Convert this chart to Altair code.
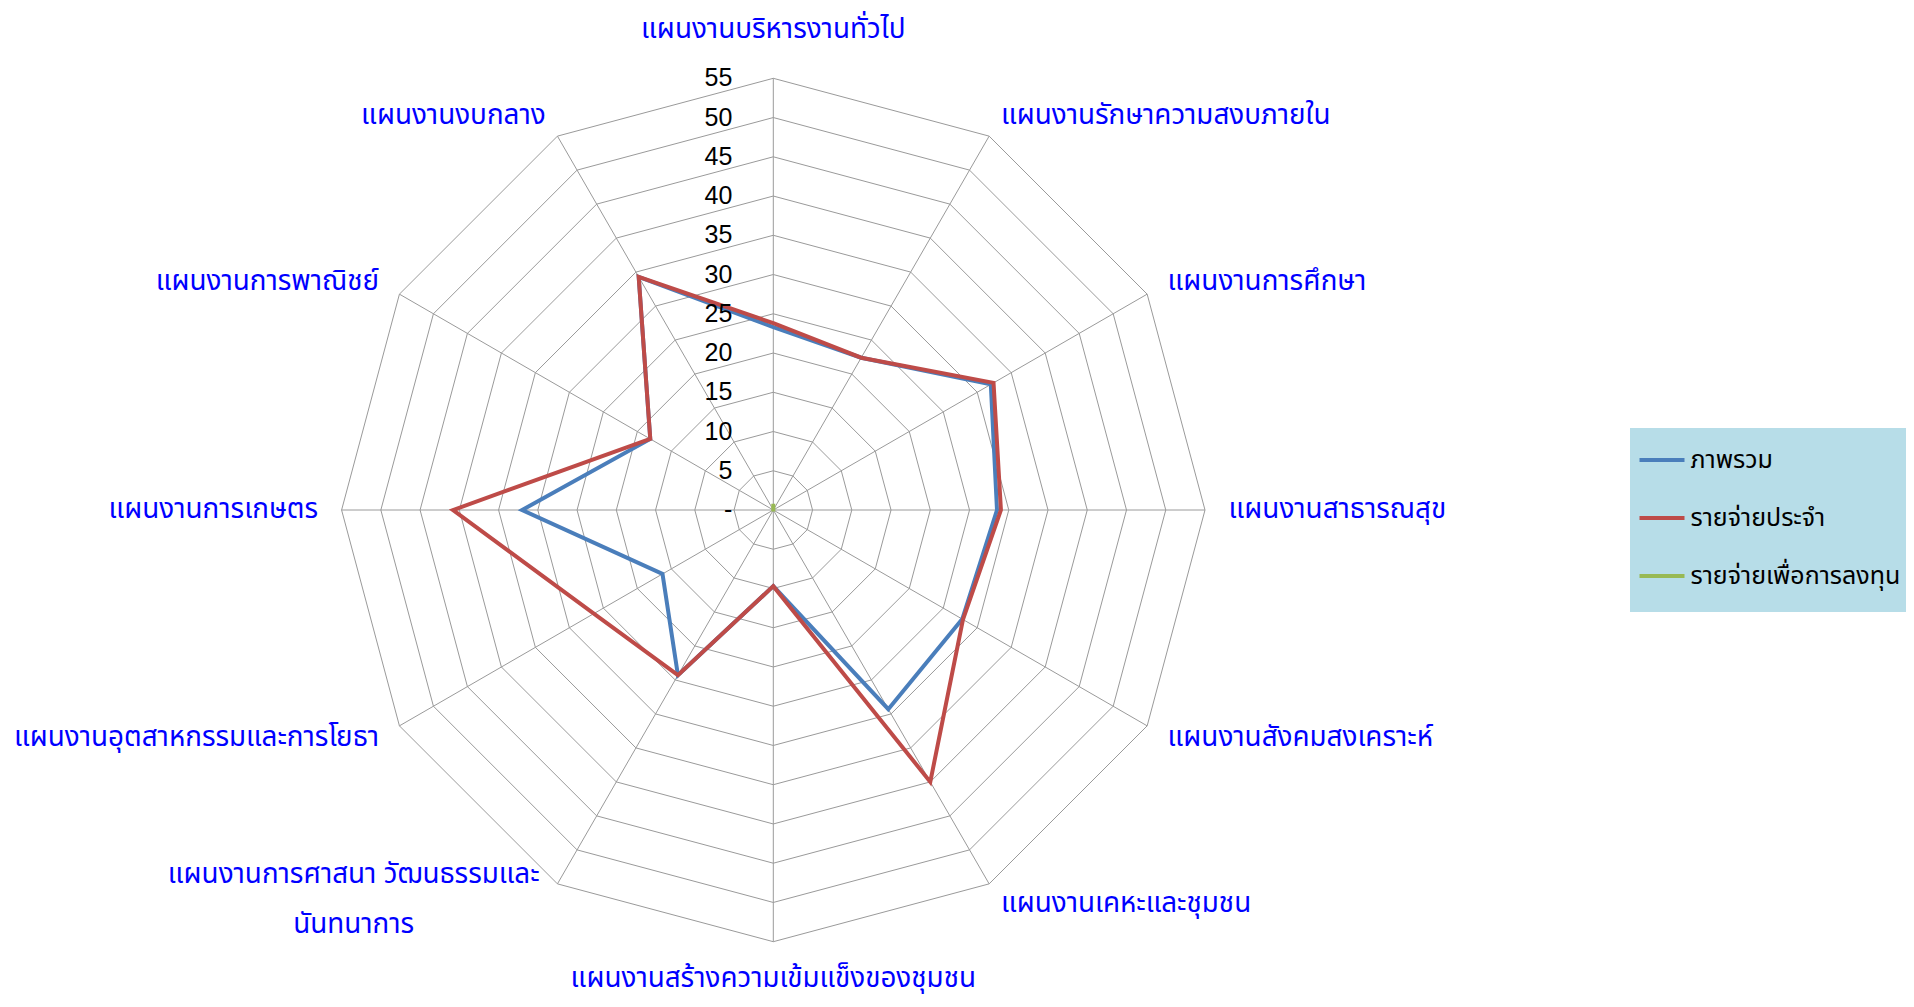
import altair as alt
import pandas as pd

# ---------------- data ----------------
categories = [
    "แผนงานบริหารงานทั่วไป",
    "แผนงานรักษาความสงบภายใน",
    "แผนงานการศึกษา",
    "แผนงานสาธารณสุข",
    "แผนงานสังคมสงเคราะห์",
    "แผนงานเคหะและชุมชน",
    "แผนงานสร้างความเข้มแข็งของชุมชน",
    "แผนงานการศาสนา วัฒนธรรมและนันทนาการ",
    "แผนงานอุตสาหกรรมและการโยธา",
    "แผนงานการเกษตร",
    "แผนงานการพาณิชย์",
    "แผนงานงบกลาง",
]
category_labels = [
    "แผนงานบริหารงานทั่วไป",
    "แผนงานรักษาความสงบภายใน",
    "แผนงานการศึกษา",
    "แผนงานสาธารณสุข",
    "แผนงานสังคมสงเคราะห์",
    "แผนงานเคหะและชุมชน",
    "แผนงานสร้างความเข้มแข็งของชุมชน",
    "แผนงานการศาสนา วัฒนธรรมและ\nนันทนาการ",
    "แผนงานอุตสาหกรรมและการโยธา",
    "แผนงานการเกษตร",
    "แผนงานการพาณิชย์",
    "แผนงานงบกลาง",
]
series_names = ["ภาพรวม", "รายจ่ายประจำ", "รายจ่ายเพื่อการลงทุน"]
overall = [23.3, 22.4, 32.0, 28.5, 27.8, 29.3, 9.7, 24.3, 16.3, 32.0, 18.1, 34.3]
recurrent = [23.8, 22.4, 32.4, 29.0, 27.9, 40.0, 9.7, 24.3, 26.4, 40.8, 18.1, 34.3]
investment = [0.8, 0.0, 0.0, 0.0, 0.0, 0.0, 0.2, 0.0, 0.0, 0.0, 0.0, 0.0]
series_colors = ["#4A7EBB", "#BE4B48", "#98B954"]
ring_levels = [5, 10, 15, 20, 25, 30, 35, 40, 45, 50, 55]
tick_values = [0, 5, 10, 15, 20, 25, 30, 35, 40, 45, 50, 55]
tick_labels = ["-", "5", "10", "15", "20", "25", "30", "35", "40", "45", "50", "55"]
r_max = 55

# ---------------- layout (pixels) ----------------
W, H = 1898, 991
CX, CY = 765.3, 502.0          # centre of the radar inside the plot area
K = 431.7 / r_max              # pixels per unit
XD = [-CX / K, (W - CX) / K]
YD = [-(H - CY) / K, CY / K]
THAI = "Tahoma, 'Noto Sans Thai', 'Leelawadee UI', 'Noto Sans', sans-serif"
LABEL_SIZE = 27.8

n = len(categories)

rows = []
for s, vals in zip(series_names, [overall, recurrent, investment]):
    for i in range(n + 1):
        rows.append({"series": s, "order": i, "idx": i % n, "value": vals[i % n]})
series_df = pd.DataFrame(rows)

grid_df = pd.DataFrame(
    [{"level": lv, "order": i, "idx": i % n, "value": lv} for lv in ring_levels for i in range(n + 1)]
)
spoke_df = pd.DataFrame({"idx": list(range(n)), "value": [r_max] * n})
tick_df = pd.DataFrame({"value": tick_values, "label": tick_labels})
label_df = pd.DataFrame({"idx": list(range(n)), "label": category_labels})

xs = alt.Scale(domain=XD, nice=False, zero=False)
ys = alt.Scale(domain=YD, nice=False, zero=False)


def polar(chart, rfield="value"):
    return chart.transform_calculate(
        theta=f"2*PI*datum.idx/{n}"
    ).transform_calculate(
        x=f"datum.{rfield}*sin(datum.theta)",
        y=f"datum.{rfield}*cos(datum.theta)",
    )


X = alt.X("x:Q", scale=xs, axis=None)
Y = alt.Y("y:Q", scale=ys, axis=None)
GRID_COLOR = "#9A9A9A"

grid = polar(alt.Chart(grid_df)).mark_line(color=GRID_COLOR, strokeWidth=1).encode(
    x=X, y=Y, detail="level:N", order="order:Q"
)

spokes = polar(alt.Chart(spoke_df)).transform_calculate(cx="0", cy="0").mark_rule(
    color=GRID_COLOR, strokeWidth=1
).encode(
    x=alt.X("cx:Q", scale=xs, axis=None),
    y=alt.Y("cy:Q", scale=ys, axis=None),
    x2="x:Q",
    y2="y:Q",
)

lines = polar(alt.Chart(series_df)).mark_line(strokeWidth=4, strokeJoin="miter").encode(
    x=X,
    y=Y,
    order="order:Q",
    color=alt.Color(
        "series:N",
        scale=alt.Scale(domain=series_names, range=series_colors),
        legend=alt.Legend(
            title=" ",
            titleOrient="bottom",
            titleFontSize=5,
            titlePadding=10,
            orient="none",
            legendX=1622,
            legendY=420,
            fillColor="#B7DDE8",
            padding=7.5,
            rowPadding=20,
            symbolType="stroke",
            symbolSize=2025,
            symbolStrokeWidth=4,
            labelFontSize=25,
            labelFont=THAI,
            labelColor="#000000",
            labelLimit=400,
            labelOffset=4,
        ),
    ),
)

ticks = alt.Chart(tick_df).transform_calculate(cx="0").mark_text(
    align="right", baseline="middle", dx=-41, fontSize=25, font="Liberation Sans", color="#000000"
).encode(
    x=alt.X("cx:Q", scale=xs, axis=None),
    y=alt.Y("value:Q", scale=ys, axis=None),
    text="label:N",
)


def label_layer(cond, r, align, dx=0, dy=0):
    base = alt.Chart(label_df).transform_filter(cond).transform_calculate(rl=str(r))
    return polar(base, "rl").mark_text(
        align=align, baseline="middle", fontSize=LABEL_SIZE, font=THAI, color="#0000FF",
        lineBreak="\n", lineHeight=50, dx=dx, dy=dy
    ).encode(x=X, y=Y, text="label:N")


lab_left = label_layer("datum.idx >= 1 && datum.idx <= 5", 58, "left")
lab_top = label_layer("datum.idx == 0", 61.2, "center")
lab_bottom = label_layer("datum.idx == 6", 59.8, "center")
lab_right = label_layer("datum.idx >= 8", 58, "right")
lab_multi = label_layer("datum.idx == 7", 58, "center", dx=-192, dy=-29)

chart = alt.layer(
    grid, spokes, lines, ticks, lab_left, lab_top, lab_bottom, lab_right, lab_multi
).properties(
    width=W, height=H, padding=0, autosize=alt.AutoSizeParams(type="none")
).configure_view(stroke=None)

chart.save("out.html", embed_options={"renderer": "svg", "actions": False})
